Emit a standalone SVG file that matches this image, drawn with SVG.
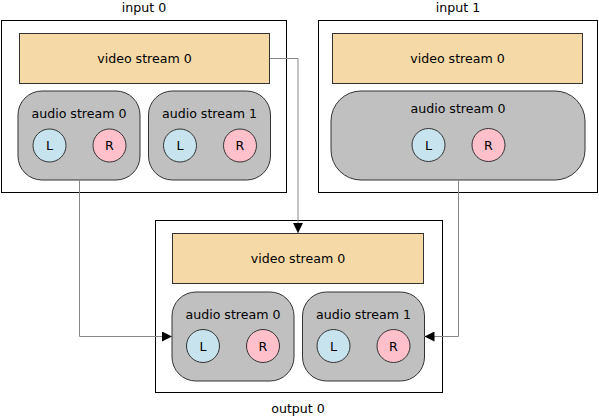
<svg xmlns="http://www.w3.org/2000/svg" width="599" height="416" viewBox="0 0 599 416">
<style>
text{font-family:"DejaVu Sans",Verdana,sans-serif;font-size:12.6px;fill:#000;text-anchor:middle;dominant-baseline:central}
.box{fill:#fff;stroke:#000;stroke-width:1}
.video{fill:#f5daa8;stroke:#333;stroke-width:1}
.audio{fill:#c0c0c0;stroke:#333;stroke-width:1}
.l{fill:#c6e3ee;stroke:#333;stroke-width:1}
.r{fill:#ffc0cb;stroke:#333;stroke-width:1}
.conn{fill:none;stroke:#888;stroke-width:1}
</style>
<defs>
<marker id="arr" viewBox="0 0 10 10" refX="10" refY="5" markerWidth="10" markerHeight="10" markerUnits="userSpaceOnUse" orient="auto">
<path d="M0,0 L10,5 L0,10 z" fill="#000"/>
</marker>
</defs>
<g id="input0">
<text x="144" y="7">input 0</text>
<rect class="box" x="1.5" y="20.5" width="285" height="172"/>
<g id="in0-video"><rect class="video" x="19.5" y="33.5" width="250" height="50"/><text x="144.5" y="58">video stream 0</text></g>
<g id="in0-audio0"><rect class="audio" x="18" y="91" width="122" height="89" rx="24"/><text x="79" y="113">audio stream 0</text>
<circle class="l" cx="49.5" cy="145.5" r="16.5"/><text x="49.5" y="145.5">L</text>
<circle class="r" cx="109.5" cy="145.5" r="16.5"/><text x="109.5" y="145.5">R</text></g>
<g id="in0-audio1"><rect class="audio" x="148.5" y="91" width="122" height="89" rx="24"/><text x="209.5" y="113">audio stream 1</text>
<circle class="l" cx="180" cy="145.5" r="16.5"/><text x="180" y="145.5">L</text>
<circle class="r" cx="240" cy="145.5" r="16.5"/><text x="240" y="145.5">R</text></g>
</g>
<g id="input1">
<text x="458" y="7">input 1</text>
<rect class="box" x="318.5" y="20.5" width="279" height="172"/>
<g id="in1-video"><rect class="video" x="332.5" y="33.5" width="250" height="50"/><text x="457.5" y="58">video stream 0</text></g>
<g id="in1-audio0"><rect class="audio" x="331" y="91" width="254" height="89" rx="30"/><text x="458" y="108.5">audio stream 0</text>
<circle class="l" cx="428.5" cy="145" r="16.5"/><text x="428.5" y="145">L</text>
<circle class="r" cx="488.5" cy="145" r="16.5"/><text x="488.5" y="145">R</text></g>
</g>
<g id="output0">
<rect class="box" x="155.5" y="220.5" width="287" height="172"/>
<text x="298" y="408">output 0</text>
<g id="out-video"><rect class="video" x="172.5" y="233.5" width="251" height="50"/><text x="298" y="258.5">video stream 0</text></g>
<g id="out-audio0"><rect class="audio" x="172" y="292" width="122" height="89" rx="24"/><text x="233" y="314">audio stream 0</text>
<circle class="l" cx="203" cy="346" r="16.5"/><text x="203" y="346">L</text>
<circle class="r" cx="263" cy="346" r="16.5"/><text x="263" y="346">R</text></g>
<g id="out-audio1"><rect class="audio" x="302.5" y="292" width="122" height="89" rx="24"/><text x="363.5" y="314">audio stream 1</text>
<circle class="l" cx="333.5" cy="346" r="16.5"/><text x="333.5" y="346">L</text>
<circle class="r" cx="393.5" cy="346" r="16.5"/><text x="393.5" y="346">R</text></g>
</g>
<g id="connectors">
<path class="conn" d="M270,58.5 H298 V233" marker-end="url(#arr)"/>
<path class="conn" d="M79.5,180 V336.5 H172" marker-end="url(#arr)"/>
<path class="conn" d="M458.5,180 V336.5 H424.5" marker-end="url(#arr)"/>
</g>
</svg>
